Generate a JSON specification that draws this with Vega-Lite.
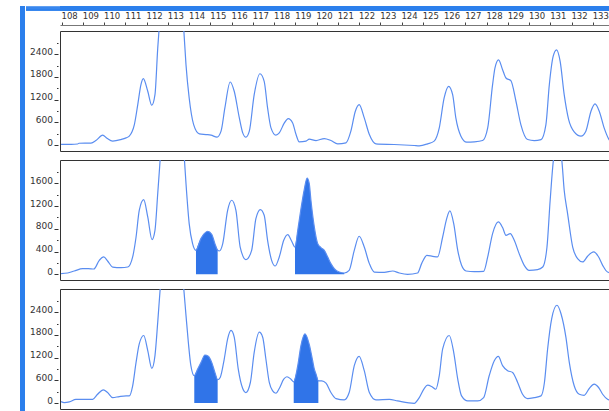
{
  "$schema": "https://vega.github.io/schema/vega-lite/v6.json",
  "padding": {"left": 20, "top": 6, "right": -3, "bottom": 0},
  "background": "white",
  "config": {"view": {"stroke": null}},
  "datasets": {
    "p1": [
      {"bp":107.97,"rfu":20},{"bp":108.44,"rfu":20},{"bp":108.75,"rfu":30},{"bp":108.81,"rfu":50},{"bp":109.38,"rfu":55},{"bp":109.61,"rfu":120},{"bp":109.93,"rfu":263},{"bp":110.13,"rfu":180},{"bp":110.40,"rfu":105},{"bp":110.79,"rfu":147},{"bp":111.03,"rfu":192},{"bp":111.18,"rfu":237},{"bp":111.31,"rfu":350},{"bp":111.42,"rfu":542},{"bp":111.58,"rfu":1068},{"bp":111.73,"rfu":1594},{"bp":111.84,"rfu":1752},{"bp":112.05,"rfu":1420},{"bp":112.24,"rfu":1052},{"bp":112.39,"rfu":1331},{"bp":112.52,"rfu":2559},{"bp":112.59,"rfu":3100},{"bp":112.81,"rfu":4800},{"bp":113.14,"rfu":5600},{"bp":113.47,"rfu":4800},{"bp":113.74,"rfu":3100},{"bp":113.85,"rfu":2120},{"bp":114.00,"rfu":1244},{"bp":114.21,"rfu":542},{"bp":114.48,"rfu":297},{"bp":114.79,"rfu":279},{"bp":115.03,"rfu":263},{"bp":115.31,"rfu":210},{"bp":115.50,"rfu":368},{"bp":115.68,"rfu":981},{"bp":115.93,"rfu":1665},{"bp":116.12,"rfu":1420},{"bp":116.36,"rfu":718},{"bp":116.52,"rfu":323},{"bp":116.67,"rfu":210},{"bp":116.83,"rfu":368},{"bp":117.06,"rfu":1331},{"bp":117.33,"rfu":1883},{"bp":117.53,"rfu":1683},{"bp":117.69,"rfu":981},{"bp":117.85,"rfu":455},{"bp":118.08,"rfu":263},{"bp":118.24,"rfu":323},{"bp":118.48,"rfu":586},{"bp":118.66,"rfu":700},{"bp":118.87,"rfu":586},{"bp":119.03,"rfu":279},{"bp":119.18,"rfu":87},{"bp":119.50,"rfu":105},{"bp":119.65,"rfu":158},{"bp":119.97,"rfu":121},{"bp":120.36,"rfu":174},{"bp":120.67,"rfu":121},{"bp":120.99,"rfu":34},{"bp":121.38,"rfu":60},{"bp":121.61,"rfu":368},{"bp":121.82,"rfu":894},{"bp":122.00,"rfu":1068},{"bp":122.24,"rfu":718},{"bp":122.48,"rfu":279},{"bp":122.79,"rfu":34},{"bp":123.65,"rfu":16},{"bp":124.59,"rfu":-10},{"bp":124.83,"rfu":-18},{"bp":125.22,"rfu":34},{"bp":125.53,"rfu":105},{"bp":125.77,"rfu":455},{"bp":126.00,"rfu":1244},{"bp":126.21,"rfu":1552},{"bp":126.40,"rfu":1331},{"bp":126.55,"rfu":718},{"bp":126.79,"rfu":237},{"bp":127.06,"rfu":79},{"bp":127.42,"rfu":87},{"bp":127.81,"rfu":121},{"bp":128.05,"rfu":455},{"bp":128.28,"rfu":1594},{"bp":128.39,"rfu":2033},{"bp":128.56,"rfu":2251},{"bp":128.75,"rfu":1989},{"bp":128.91,"rfu":1770},{"bp":129.14,"rfu":1700},{"bp":129.38,"rfu":1157},{"bp":129.61,"rfu":542},{"bp":129.93,"rfu":147},{"bp":130.24,"rfu":121},{"bp":130.56,"rfu":147},{"bp":130.79,"rfu":542},{"bp":130.95,"rfu":1594},{"bp":131.13,"rfu":2341},{"bp":131.29,"rfu":2514},{"bp":131.46,"rfu":2209},{"bp":131.65,"rfu":1331},{"bp":131.86,"rfu":673},{"bp":132.12,"rfu":350},{"bp":132.44,"rfu":237},{"bp":132.67,"rfu":368},{"bp":132.91,"rfu":894},{"bp":133.10,"rfu":1086},{"bp":133.30,"rfu":894},{"bp":133.53,"rfu":455},{"bp":133.76,"rfu":147},{"bp":133.93,"rfu":60}
    ],
    "p2": [
      {"bp":107.97,"rfu":12},{"bp":108.28,"rfu":23},{"bp":108.59,"rfu":58},{"bp":108.99,"rfu":100},{"bp":109.25,"rfu":100},{"bp":109.51,"rfu":93},{"bp":109.77,"rfu":246},{"bp":109.98,"rfu":305},{"bp":110.16,"rfu":234},{"bp":110.40,"rfu":128},{"bp":110.79,"rfu":118},{"bp":111.11,"rfu":128},{"bp":111.34,"rfu":305},{"bp":111.50,"rfu":656},{"bp":111.65,"rfu":1126},{"bp":111.86,"rfu":1315},{"bp":112.05,"rfu":1008},{"bp":112.25,"rfu":611},{"bp":112.39,"rfu":774},{"bp":112.52,"rfu":1420},{"bp":112.64,"rfu":2050},{"bp":112.91,"rfu":3500},{"bp":113.19,"rfu":4200},{"bp":113.47,"rfu":3500},{"bp":113.77,"rfu":2050},{"bp":113.85,"rfu":1596},{"bp":114.00,"rfu":892},{"bp":114.16,"rfu":540},
      {"bp":114.32,"rfu":422,"pk":"A"},{"bp":114.55,"rfu":628,"pk":"A"},{"bp":114.71,"rfu":716,"pk":"A"},{"bp":114.87,"rfu":757,"pk":"A"},{"bp":115.06,"rfu":704,"pk":"A"},{"bp":115.21,"rfu":540,"pk":"A"},{"bp":115.34,"rfu":422,"pk":"A"},
      {"bp":115.42,"rfu":410},{"bp":115.58,"rfu":540},{"bp":115.81,"rfu":1126},{"bp":116.00,"rfu":1302},{"bp":116.20,"rfu":1126},{"bp":116.40,"rfu":480},{"bp":116.67,"rfu":259},{"bp":116.94,"rfu":422},{"bp":117.14,"rfu":980},{"bp":117.35,"rfu":1139},{"bp":117.53,"rfu":1038},{"bp":117.69,"rfu":598},{"bp":117.88,"rfu":246},{"bp":118.05,"rfu":146},{"bp":118.24,"rfu":305},{"bp":118.45,"rfu":598},{"bp":118.64,"rfu":699},{"bp":118.82,"rfu":586},
      {"bp":118.98,"rfu":480,"pk":"B"},{"bp":119.12,"rfu":800,"pk":"B"},{"bp":119.26,"rfu":1150,"pk":"B"},{"bp":119.42,"rfu":1500,"pk":"B"},{"bp":119.55,"rfu":1690,"pk":"B"},{"bp":119.65,"rfu":1600,"pk":"B"},{"bp":119.73,"rfu":1302,"pk":"B"},{"bp":119.89,"rfu":832,"pk":"B"},{"bp":120.05,"rfu":540,"pk":"B"},{"bp":120.20,"rfu":470,"pk":"B"},{"bp":120.36,"rfu":422,"pk":"B"},{"bp":120.52,"rfu":305,"pk":"B"},{"bp":120.67,"rfu":188,"pk":"B"},{"bp":120.83,"rfu":100,"pk":"B"},{"bp":121.06,"rfu":40,"pk":"B"},{"bp":121.30,"rfu":23,"pk":"B"},
      {"bp":121.53,"rfu":70},{"bp":121.77,"rfu":422},{"bp":122.00,"rfu":669},{"bp":122.24,"rfu":480},{"bp":122.48,"rfu":188},{"bp":122.71,"rfu":40},{"bp":123.18,"rfu":35},{"bp":123.58,"rfu":58},{"bp":123.89,"rfu":23},{"bp":124.28,"rfu":0},{"bp":124.75,"rfu":23},{"bp":124.94,"rfu":188},{"bp":125.19,"rfu":334},{"bp":125.46,"rfu":317},{"bp":125.69,"rfu":305},{"bp":125.93,"rfu":656},{"bp":126.12,"rfu":980},{"bp":126.27,"rfu":1114},{"bp":126.45,"rfu":892},{"bp":126.64,"rfu":422},{"bp":126.82,"rfu":158},{"bp":127.03,"rfu":58},{"bp":127.42,"rfu":47},{"bp":127.86,"rfu":53},{"bp":128.05,"rfu":305},{"bp":128.28,"rfu":716},{"bp":128.55,"rfu":921},{"bp":128.75,"rfu":822},{"bp":128.91,"rfu":686},{"bp":129.11,"rfu":716},{"bp":129.30,"rfu":598},{"bp":129.53,"rfu":364},{"bp":129.77,"rfu":158},{"bp":130.00,"rfu":70},{"bp":130.40,"rfu":82},{"bp":130.64,"rfu":128},{"bp":130.84,"rfu":480},{"bp":130.99,"rfu":1302},{"bp":131.15,"rfu":2030},{"bp":131.34,"rfu":2300},{"bp":131.53,"rfu":2030},{"bp":131.65,"rfu":1478},{"bp":131.81,"rfu":1068},{"bp":132.05,"rfu":480},{"bp":132.28,"rfu":276},{"bp":132.52,"rfu":217},{"bp":132.75,"rfu":317},{"bp":133.04,"rfu":393},{"bp":133.25,"rfu":317},{"bp":133.46,"rfu":158},{"bp":133.69,"rfu":40},{"bp":133.94,"rfu":20}
    ],
    "p3": [
      {"bp":107.97,"rfu":40},{"bp":108.12,"rfu":13},{"bp":108.36,"rfu":32},{"bp":108.67,"rfu":101},{"bp":109.06,"rfu":101},{"bp":109.46,"rfu":101},{"bp":109.69,"rfu":234},{"bp":109.96,"rfu":350},{"bp":110.16,"rfu":279},{"bp":110.40,"rfu":146},{"bp":110.71,"rfu":173},{"bp":111.03,"rfu":191},{"bp":111.18,"rfu":191},{"bp":111.34,"rfu":457},{"bp":111.50,"rfu":1075},{"bp":111.65,"rfu":1561},{"bp":111.86,"rfu":1784},{"bp":112.05,"rfu":1386},{"bp":112.24,"rfu":916},{"bp":112.39,"rfu":1253},{"bp":112.52,"rfu":2137},{"bp":112.64,"rfu":3050},{"bp":112.91,"rfu":4500},{"bp":113.19,"rfu":5200},{"bp":113.47,"rfu":4500},{"bp":113.74,"rfu":3050},{"bp":113.85,"rfu":2315},{"bp":113.96,"rfu":1606},{"bp":114.08,"rfu":988},
      {"bp":114.24,"rfu":722,"pk":"A"},{"bp":114.40,"rfu":897,"pk":"A"},{"bp":114.56,"rfu":1075,"pk":"A"},{"bp":114.74,"rfu":1269,"pk":"A"},{"bp":114.90,"rfu":1235,"pk":"A"},{"bp":115.06,"rfu":1075,"pk":"A"},{"bp":115.21,"rfu":810,"pk":"A"},{"bp":115.34,"rfu":616,"pk":"A"},
      {"bp":115.46,"rfu":677},{"bp":115.65,"rfu":1163},{"bp":115.81,"rfu":1694},{"bp":115.97,"rfu":1917},{"bp":116.12,"rfu":1739},{"bp":116.31,"rfu":897},{"bp":116.52,"rfu":385},{"bp":116.67,"rfu":279},{"bp":116.88,"rfu":544},{"bp":117.06,"rfu":1341},{"bp":117.30,"rfu":1872},{"bp":117.46,"rfu":1739},{"bp":117.61,"rfu":1163},{"bp":117.77,"rfu":544},{"bp":117.93,"rfu":324},{"bp":118.08,"rfu":260},{"bp":118.24,"rfu":385},{"bp":118.45,"rfu":632},{"bp":118.60,"rfu":696},{"bp":118.79,"rfu":632},
      {"bp":118.92,"rfu":563,"pk":"B"},{"bp":119.11,"rfu":988,"pk":"B"},{"bp":119.26,"rfu":1519,"pk":"B"},{"bp":119.45,"rfu":1827,"pk":"B"},{"bp":119.65,"rfu":1550,"pk":"B"},{"bp":119.81,"rfu":1120,"pk":"B"},{"bp":119.89,"rfu":897,"pk":"B"},{"bp":119.97,"rfu":765,"pk":"B"},{"bp":120.08,"rfu":589,"pk":"B"},
      {"bp":120.24,"rfu":589},{"bp":120.44,"rfu":526},{"bp":120.67,"rfu":279},{"bp":120.91,"rfu":119},{"bp":121.30,"rfu":85},{"bp":121.53,"rfu":279},{"bp":121.77,"rfu":988},{"bp":122.00,"rfu":1235},{"bp":122.24,"rfu":855},{"bp":122.48,"rfu":279},{"bp":122.79,"rfu":85},{"bp":123.42,"rfu":101},{"bp":123.81,"rfu":58},{"bp":124.59,"rfu":-5},{"bp":124.83,"rfu":146},{"bp":125.06,"rfu":385},{"bp":125.22,"rfu":473},{"bp":125.41,"rfu":438},{"bp":125.61,"rfu":366},{"bp":125.77,"rfu":722},{"bp":125.93,"rfu":1428},{"bp":126.24,"rfu":1784},{"bp":126.45,"rfu":1341},{"bp":126.64,"rfu":632},{"bp":126.82,"rfu":191},{"bp":127.11,"rfu":58},{"bp":127.58,"rfu":58},{"bp":127.86,"rfu":146},{"bp":128.12,"rfu":722},{"bp":128.36,"rfu":1120},{"bp":128.55,"rfu":1235},{"bp":128.75,"rfu":988},{"bp":128.99,"rfu":855},{"bp":129.22,"rfu":810},{"bp":129.46,"rfu":544},{"bp":129.69,"rfu":234},{"bp":129.93,"rfu":119},{"bp":130.24,"rfu":146},{"bp":130.56,"rfu":191},{"bp":130.72,"rfu":544},{"bp":130.87,"rfu":1428},{"bp":131.06,"rfu":2225},{"bp":131.31,"rfu":2581},{"bp":131.50,"rfu":2358},{"bp":131.73,"rfu":1739},{"bp":131.89,"rfu":1075},{"bp":132.12,"rfu":457},{"bp":132.36,"rfu":234},{"bp":132.59,"rfu":207},{"bp":132.83,"rfu":385},{"bp":133.06,"rfu":499},{"bp":133.27,"rfu":412},{"bp":133.46,"rfu":234},{"bp":133.69,"rfu":101},{"bp":133.94,"rfu":60}
    ]
  },
  "spacing": 0,
  "hconcat": [
    {
      "data": {"values": []},
      "mark": "point",
      "encoding": {},
      "width": 5,
      "height": 405,
      "view": {"fill": "#2b7fec", "stroke": null}
    },
    {
      "spacing": 0,
      "vconcat": [
        {
          "data": {"values": []},
          "mark": "point",
          "encoding": {
            "y": {"field": "v", "type": "quantitative", "scale": {"domain": [0, 5], "nice": false, "zero": false},
              "axis": {"orient": "left", "values": [0.75, 1.5, 2.5, 3.5, 4.25], "labels": false, "domain": false, "grid": false, "title": null, "ticks": true, "tickSize": 34, "tickWidth": 1.5, "tickColor": "#2b7fec", "tickCap": "butt", "offset": 0, "translate": 0, "minExtent": 34, "maxExtent": 34}}
          },
          "width": 552,
          "height": 5,
          "view": {"fill": "#2b7fec", "stroke": null}
        },
        {
          "spacing": 7,
          "vconcat": [
            {
              "width": 552,
              "height": 120,
              "data": {"name": "p1"},
              "view": {"stroke": "#333", "strokeWidth": 1},
              "encoding": {
                "x": {"field": "bp", "type": "quantitative", "scale": {"domain": [107.92, 133.9], "nice": false, "zero": false},
                  "axis": {"orient": "top", "values": [108,109,110,111,112,113,114,115,116,117,118,119,120,121,122,123,124,125,126,127,128,129,130,131,132,133], "format": "d", "labelAlign": "left", "labelOffset": -0.7, "tickSize": 3, "offset": 6, "domain": true, "domainColor": "#777", "tickColor": "#444", "labelPadding": 1.5, "labelFontSize": 8.5, "labelFont": "DejaVu Sans", "labelColor": "#333", "title": null, "grid": false, "labelFlush": false, "labelOverlap": false}},
                "y": {"field": "rfu", "type": "quantitative", "stack": null, "scale": {"domain": [-155, 3010], "nice": false, "zero": false},
                  "axis": {"orient": "left", "values": [0,300,600,900,1200,1500,1800,2100,2400,2700], "format": "d", "labelExpr": "datum.value % 600 === 0 ? datum.label : ''", "tickSize": {"condition": {"test": "datum.value % 600 === 0", "value": 4}, "value": 1.5}, "offset": 2, "domain": false, "grid": false, "title": null, "labelBaseline": "alphabetic", "labelPadding": 1.5, "labelFontSize": 9, "labelFont": "DejaVu Sans", "labelColor": "#333", "tickColor": "#333", "minExtent": 32, "maxExtent": 32, "labelFlush": false, "labelOverlap": false}}
              },
              "layer": [
                {
                  "mark": {"type": "line", "interpolate": "monotone", "color": "#5a8df0", "strokeWidth": 1.2, "clip": true}
                }
              ]
            },
            {
              "width": 552,
              "height": 120,
              "data": {"name": "p2"},
              "view": {"stroke": "#333", "strokeWidth": 1},
              "encoding": {
                "x": {"field": "bp", "type": "quantitative", "scale": {"domain": [107.92, 133.9], "nice": false, "zero": false}, "axis": null},
                "y": {"field": "rfu", "type": "quantitative", "stack": null, "scale": {"domain": [-100, 2010], "nice": false, "zero": false},
                  "axis": {"orient": "left", "values": [0,200,400,600,800,1000,1200,1400,1600,1800], "format": "d", "labelExpr": "datum.value % 400 === 0 ? datum.label : ''", "tickSize": {"condition": {"test": "datum.value % 400 === 0", "value": 4}, "value": 1.5}, "offset": 2, "domain": false, "grid": false, "title": null, "labelBaseline": "alphabetic", "labelPadding": 1.5, "labelFontSize": 9, "labelFont": "DejaVu Sans", "labelColor": "#333", "tickColor": "#333", "minExtent": 32, "maxExtent": 32, "labelFlush": false, "labelOverlap": false}}
              },
              "layer": [
                {
                  "transform": [{"filter": "isValid(datum.pk)"}],
                  "mark": {"type": "area", "interpolate": "monotone", "color": "#3074e8", "opacity": 1, "clip": true},
                  "encoding": {"detail": {"field": "pk"}}
                },
                {
                  "mark": {"type": "line", "interpolate": "monotone", "color": "#5a8df0", "strokeWidth": 1.2, "clip": true}
                }
              ]
            },
            {
              "width": 552,
              "height": 120,
              "data": {"name": "p3"},
              "view": {"stroke": "#333", "strokeWidth": 1},
              "encoding": {
                "x": {"field": "bp", "type": "quantitative", "scale": {"domain": [107.92, 133.9], "nice": false, "zero": false}, "axis": null},
                "y": {"field": "rfu", "type": "quantitative", "stack": null, "scale": {"domain": [-155, 3010], "nice": false, "zero": false},
                  "axis": {"orient": "left", "values": [0,300,600,900,1200,1500,1800,2100,2400,2700], "format": "d", "labelExpr": "datum.value % 600 === 0 ? datum.label : ''", "tickSize": {"condition": {"test": "datum.value % 600 === 0", "value": 4}, "value": 1.5}, "offset": 2, "domain": false, "grid": false, "title": null, "labelBaseline": "alphabetic", "labelPadding": 1.5, "labelFontSize": 9, "labelFont": "DejaVu Sans", "labelColor": "#333", "tickColor": "#333", "minExtent": 32, "maxExtent": 32, "labelFlush": false, "labelOverlap": false}}
              },
              "layer": [
                {
                  "transform": [{"filter": "isValid(datum.pk)"}],
                  "mark": {"type": "area", "interpolate": "monotone", "color": "#3074e8", "opacity": 1, "clip": true},
                  "encoding": {"detail": {"field": "pk"}}
                },
                {
                  "mark": {"type": "line", "interpolate": "monotone", "color": "#5a8df0", "strokeWidth": 1.2, "clip": true}
                }
              ]
            }
          ]
        }
      ]
    }
  ]
}
